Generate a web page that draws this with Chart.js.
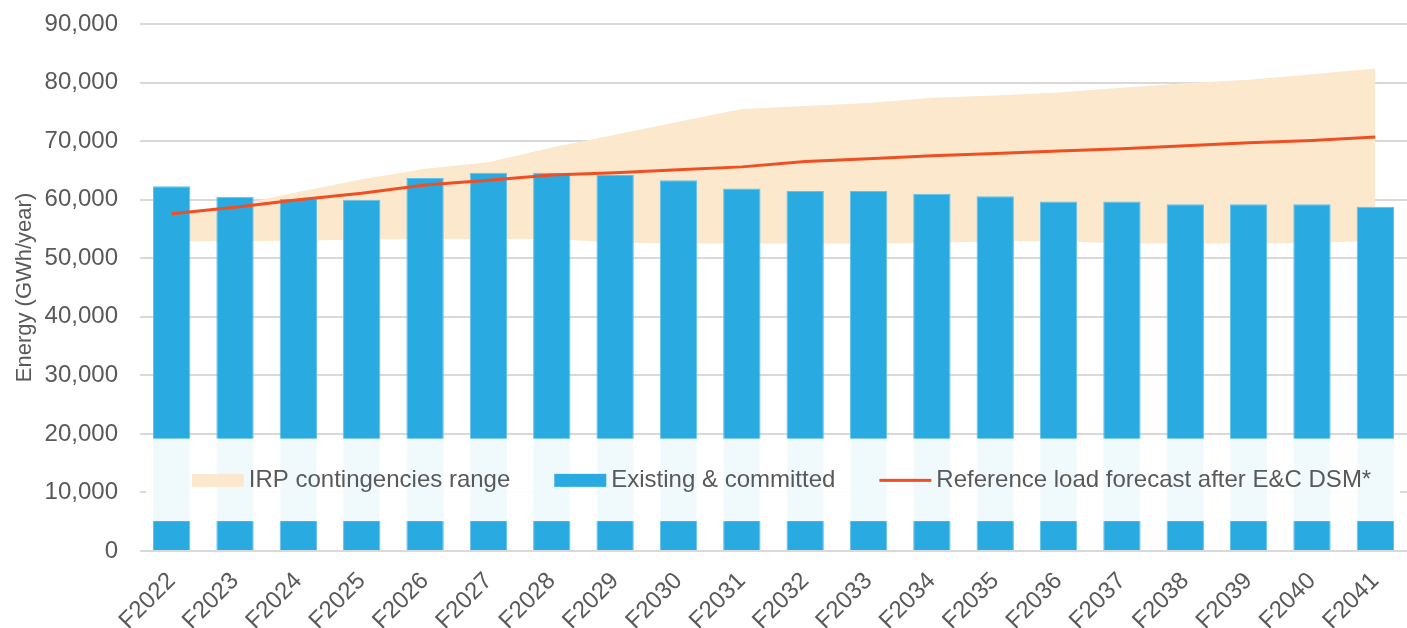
<!DOCTYPE html>
<html>
<head>
<meta charset="utf-8">
<script src="https://cdn.jsdelivr.net/npm/chart.js@4"></script>
<style>
  html, body { margin: 0; padding: 0; background: #fff; }
  #wrap { width: 1407px; height: 628px; position: relative; }
</style>
</head>
<body>
<div id="wrap"><canvas id="energyChart"></canvas></div>
<script>
// Data
const years = ['F2022', 'F2023', 'F2024', 'F2025', 'F2026', 'F2027', 'F2028', 'F2029', 'F2030', 'F2031',
               'F2032', 'F2033', 'F2034', 'F2035', 'F2036', 'F2037', 'F2038', 'F2039', 'F2040', 'F2041'];
const existingCommitted = [62300, 60500, 60100, 60000, 63700, 64600, 64600, 64200, 63300, 61900,
                           61500, 61500, 61000, 60600, 59700, 59700, 59200, 59200, 59200, 58800];
const loadForecast = [57600, 58700, 60000, 61100, 62500, 63300, 64200, 64600, 65100, 65600,
                      66500, 67000, 67500, 67900, 68300, 68700, 69200, 69700, 70100, 70700];
const irpHigh = [57600, 59000, 61300, 63500, 65300, 66400, 68900, 71100, 73300, 75500,
                 76000, 76500, 77400, 77800, 78300, 79100, 79900, 80500, 81400, 82400];
const irpLow = [52900, 52900, 53000, 53200, 53300, 53300, 53300, 52700, 52500, 52500,
                52500, 52500, 52600, 52900, 52900, 52500, 52500, 52500, 52600, 53000];
const yTicks = [0, 10000, 20000, 30000, 40000, 50000, 60000, 70000, 80000, 90000];

const textColor = '#595959';
const fontFamily = '"Liberation Sans", Arial, sans-serif';

// Legend drawn inside the plot on a translucent white band, like the original
const insideLegend = {
    id: 'insideLegend',
    afterDatasetsDraw(chart, args, opts) {
        const { ctx, chartArea, scales } = chart;
        const top = scales.y.getPixelForValue(opts.bandTop);
        const bottom = scales.y.getPixelForValue(opts.bandBottom);
        ctx.save();
        ctx.fillStyle = 'rgba(255,255,255,0.935)';
        ctx.fillRect(chartArea.left + 6, top, chartArea.right - chartArea.left - 13, bottom - top);

        ctx.font = '24px ' + fontFamily;
        ctx.textBaseline = 'middle';
        const items = opts.items.map(i => {
            const ds = chart.data.datasets[i];
            return { ds, w: ctx.measureText(ds.label).width };
        });
        const sw = 52, gapText = 5, gapItem = 44;
        const total = items.reduce((s, it) => s + sw + gapText + it.w, 0) + gapItem * (items.length - 1);
        let x = (chartArea.left + chartArea.right) / 2 + 8 - total / 2;
        const cy = (top + bottom) / 2 + 0.5;
        items.forEach(it => {
            if (it.ds.type === 'line' && it.ds.fill === false) {
                ctx.fillStyle = it.ds.borderColor;
                ctx.fillRect(x, cy - 1.5, sw, 3);
            } else {
                ctx.fillStyle = it.ds.backgroundColor;
                ctx.fillRect(x, cy - 6.5, sw, 13);
            }
            ctx.fillStyle = textColor;
            ctx.fillText(it.ds.label, x + sw + gapText, cy);
            x += sw + gapText + it.w + gapItem;
        });
        ctx.restore();
    }
};

const ctx = document.getElementById('energyChart').getContext('2d');
new Chart(ctx, {
    type: 'bar',
    data: {
        labels: years,
        datasets: [
            {
                type: 'line', label: 'IRP low', data: irpLow,
                borderWidth: 0, pointRadius: 0, fill: false, order: 4,
                backgroundColor: '#FBE8CD'
            },
            {
                type: 'line', label: 'IRP contingencies range', data: irpHigh,
                borderWidth: 0, pointRadius: 0, fill: 0, order: 3,
                backgroundColor: '#FBE8CD', borderColor: '#FBE8CD'
            },
            {
                label: 'Existing & committed', data: existingCommitted,
                backgroundColor: '#29ABE2', borderColor: '#62C1EA', borderWidth: 1,
                barPercentage: 0.59, categoryPercentage: 1, order: 2
            },
            {
                type: 'line', label: 'Reference load forecast after E&C DSM*', data: loadForecast,
                borderColor: '#F04E23', borderWidth: 3, pointRadius: 0, fill: false, tension: 0, order: 1
            }
        ]
    },
    options: {
        responsive: true,
        maintainAspectRatio: false,
        animation: false,
        layout: { padding: { top: 24, right: 0, left: 8, bottom: 0 } },
        scales: {
            x: {
                grid: { display: false },
                border: { display: false },
                afterFit: axis => { axis.height = 77; },
                ticks: {
                    color: textColor, font: { size: 24, family: fontFamily },
                    maxRotation: 45, minRotation: 45, padding: 8, autoSkip: false
                }
            },
            y: {
                min: 0, max: 90000,
                afterBuildTicks: axis => { axis.ticks = yTicks.map(v => ({ value: v })); },
                afterFit: axis => { axis.width = 132; axis.paddingTop = 0; },
                grid: { color: '#D9D9D9', lineWidth: 2, drawTicks: false },
                border: { display: false },
                title: {
                    display: true, text: 'Energy (GWh/year)', color: textColor,
                    font: { size: 22, family: fontFamily }, padding: { bottom: 4 }
                },
                ticks: {
                    color: textColor, font: { size: 24, family: fontFamily }, padding: 22,
                    callback: v => v.toLocaleString('en-US')
                }
            }
        },
        plugins: {
            legend: { display: false },
            tooltip: { enabled: false },
            insideLegend: { bandTop: 19200, bandBottom: 5100, items: [1, 2, 3] }
        }
    },
    plugins: [insideLegend]
});
</script>
</body>
</html>
